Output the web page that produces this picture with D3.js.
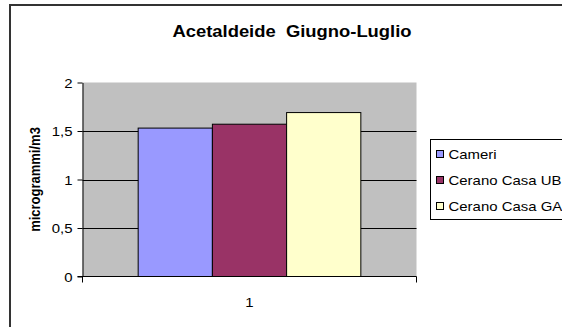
<!DOCTYPE html>
<html>
<head>
<meta charset="utf-8">
<script src="https://cdn.jsdelivr.net/npm/d3@7"></script>
<style>
  html, body { margin: 0; padding: 0; background: #fff; }
  svg { display: block; font-family: "Liberation Sans", Arial, sans-serif; }
</style>
</head>
<body>
<svg id="chart" width="562" height="327"></svg>
<script>
// Acetaldehyde concentration, June–July
const categories = ["1"];
const seriesNames = ["Cameri", "Cerano Casa UB", "Cerano Casa GA"];
const seriesValues = [1.53, 1.57, 1.69];
const seriesColors = ["#9999FF", "#993366", "#FFFFCC"];
const yTicks = [0, 0.5, 1, 1.5, 2];
const yTickLabels = ["0", "0,5", "1", "1,5", "2"];
const titleText = "Acetaldeide\u00a0\u00a0Giugno-Luglio";
const yAxisTitle = "microgrammi/m3";

// text in this chart is drawn slightly wide
const STRETCH = 1.15;
const wide = (x, y, extra = "") => `translate(${x},${y}) scale(${STRETCH},1)${extra}`;

const svg = d3.select("#chart");

// outer chart frame (extends past the window on the right and bottom)
svg.append("rect")
  .attr("x", 10).attr("y", 5)
  .attr("width", 600).attr("height", 400)
  .attr("fill", "#fff")
  .attr("stroke", "#333").attr("stroke-width", 2);

const plot = { left: 82.5, right: 416.5, top: 82.5, bottom: 276.5 };

const x = d3.scaleBand()
  .domain(categories)
  .range([plot.left, plot.right])
  .paddingInner(0)
  .paddingOuter(0);

// 150% gap: group of 3 bars occupies 3/4.5 of the band
const groupWidth = x.bandwidth() * 3 / 4.5;
const xs = d3.scaleBand()
  .domain(seriesNames)
  .range([0, groupWidth]);

const y = d3.scaleLinear().domain([0, 2]).range([plot.bottom, plot.top]);

// plot area background
svg.append("rect")
  .attr("x", plot.left).attr("y", plot.top)
  .attr("width", plot.right - plot.left)
  .attr("height", plot.bottom - plot.top)
  .attr("fill", "#C0C0C0");

// horizontal gridlines
svg.append("g")
  .selectAll("line")
  .data(yTicks.filter(t => t > 0 && t < 2))
  .join("line")
  .attr("x1", plot.left).attr("x2", plot.right)
  .attr("y1", d => Math.round(y(d)) + 0.5)
  .attr("y2", d => Math.round(y(d)) + 0.5)
  .attr("stroke", "#000").attr("stroke-width", 1);

// bars
const groupStart = x("1") + (x.bandwidth() - groupWidth) / 2;
svg.append("g")
  .selectAll("rect")
  .data(seriesValues)
  .join("rect")
  .attr("x", (d, i) => groupStart + xs(seriesNames[i]))
  .attr("y", d => y(d))
  .attr("width", xs.bandwidth())
  .attr("height", d => y(0) - y(d))
  .attr("fill", (d, i) => seriesColors[i])
  .attr("stroke", "#000").attr("stroke-width", 1);

// y axis
const yAxis = d3.axisLeft(y)
  .tickValues(yTicks)
  .tickFormat((d, i) => yTickLabels[i])
  .tickSizeInner(5).tickSizeOuter(0).tickPadding(0);
const gy = svg.append("g")
  .attr("transform", `translate(${plot.left},0)`)
  .call(yAxis);
gy.select(".domain").attr("stroke", "#000");
gy.selectAll(".tick line").attr("stroke", "#000");
gy.selectAll(".tick text")
  .attr("x", null).attr("dy", null)
  .attr("transform", `translate(-10,4.5) scale(${STRETCH},1)`)
  .attr("font-size", 13).attr("fill", "#000")
  .attr("font-family", "Liberation Sans, Arial, sans-serif");

// x axis with tick marks at category boundaries
const gx = svg.append("g")
  .attr("transform", `translate(0,${plot.bottom})`);
gx.append("line")
  .attr("x1", plot.left - 5).attr("x2", plot.right)
  .attr("stroke", "#000");
gx.selectAll("line.tk")
  .data(x.range())
  .join("line").attr("class", "tk")
  .attr("x1", d => d).attr("x2", d => d)
  .attr("y1", 0).attr("y2", 6)
  .attr("stroke", "#000");
gx.selectAll("text")
  .data(categories)
  .join("text")
  .attr("transform", d => wide(x(d) + x.bandwidth() / 2, 30))
  .attr("text-anchor", "middle")
  .attr("font-size", 13)
  .text(d => d);

// title
svg.append("text")
  .attr("transform", wide(292, 37))
  .attr("text-anchor", "middle")
  .attr("font-size", 16).attr("font-weight", "bold")
  .text(titleText);

// y axis title
svg.append("text")
  .attr("transform", wide(40, (plot.top + plot.bottom) / 2, " rotate(-90)"))
  .attr("text-anchor", "middle")
  .attr("font-size", 13).attr("font-weight", "bold")
  .text(yAxisTitle);

// legend
const legend = svg.append("g").attr("transform", "translate(430.5,139.5)");
legend.append("rect")
  .attr("width", 200).attr("height", 80)
  .attr("fill", "#fff").attr("stroke", "#000");
const items = legend.selectAll("g.item")
  .data(seriesNames)
  .join("g").attr("class", "item")
  .attr("transform", (d, i) => `translate(6,${15 + i * 26})`);
items.append("rect")
  .attr("x", 0).attr("y", -4).attr("width", 7).attr("height", 7)
  .attr("fill", (d, i) => seriesColors[i])
  .attr("stroke", "#000");
items.append("text")
  .attr("transform", wide(12, 4.5))
  .attr("font-size", 13)
  .text(d => d);
</script>
</body>
</html>
